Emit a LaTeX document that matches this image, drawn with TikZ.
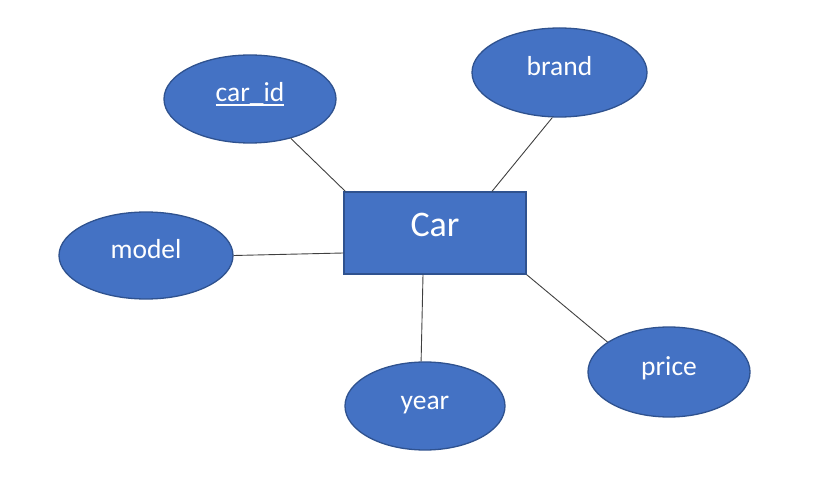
\documentclass[tikz,border=0pt]{standalone}
\usepackage{fontspec}
\setmainfont{Carlito}
\usetikzlibrary{shapes.geometric}
\definecolor{erfill}{HTML}{4472C4}
\definecolor{erdraw}{HTML}{2F528F}
\definecolor{linkc}{HTML}{404040}
\newcommand{\keyline}[1]{{\setbox0\hbox{#1}\rlap{\rule[-\fontchardp\font`\_]{\wd0}{1.6pt}}\box0}}
\tikzset{
  x=1pt, y=-1pt,
  attr/.style={ellipse, fill=erfill, draw=erdraw, line width=1.3pt, inner sep=0pt,
    text=white, font=\fontsize{27.5}{31}\selectfont, text height=14pt, text depth=8pt},
  entity/.style={rectangle, fill=erfill, draw=erdraw, line width=1.3pt, inner sep=0pt,
    text=white, font=\fontsize{36}{41}\selectfont, text height=20pt, text depth=12pt,
    minimum width=182pt, minimum height=82pt},
  link/.style={draw=linkc, line width=0.9pt}
}
\begin{document}
\begin{tikzpicture}
\useasboundingbox (0,0) rectangle (840,478);
\node[entity] (car) at (435,233) {Car};
\node[attr, minimum width=172pt, minimum height=88pt] (carid) at (250,99) {\keyline{car\_id}};
\node[attr, minimum width=175pt, minimum height=89pt] (brand) at (559.5,72.5) {brand};
\node[attr, minimum width=174pt, minimum height=87pt] (model) at (146,255.5) {model};
\node[attr, minimum width=160pt, minimum height=88pt] (year) at (425,406) {year};
\node[attr, minimum width=162pt, minimum height=90pt] (price) at (669,372) {price};
\draw[link] (carid.-44) -- ([xshift=2pt]car.north west);
\draw[link] (brand.-99) -- ([xshift=57pt]car.north);
\draw[link] (model.east) -- ([yshift=-20pt]car.west);
\draw[link] ([xshift=-12pt]car.south) -- (year.95);
\draw[link] (car.south east) -- (price.154);
\end{tikzpicture}
\end{document}
